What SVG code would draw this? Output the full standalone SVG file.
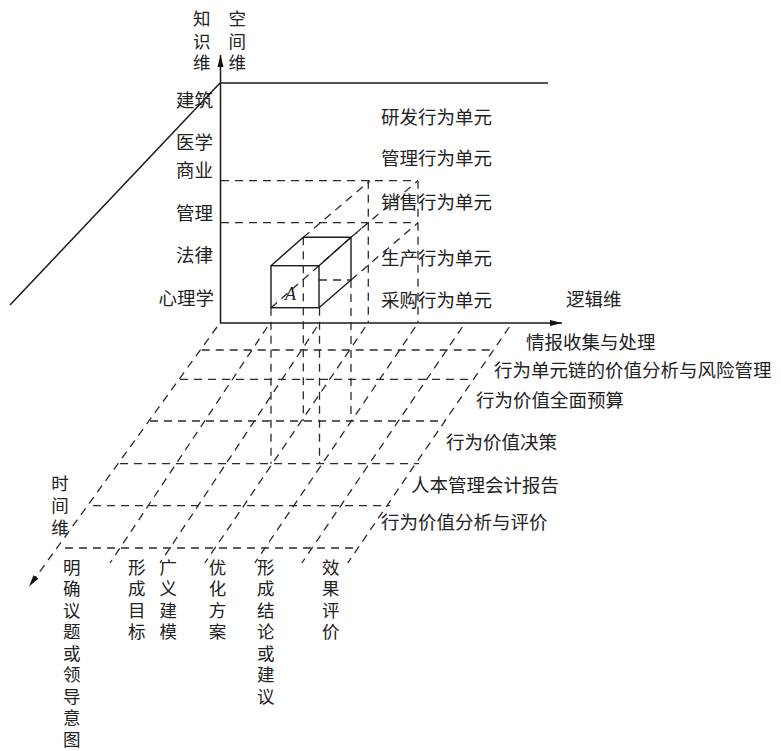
<svg xmlns="http://www.w3.org/2000/svg" width="781" height="751" viewBox="0 0 781 751">
<style>
.ax{stroke:#1a1a1a;stroke-width:1.5;fill:none}
.so{stroke:#1a1a1a;stroke-width:1.4;fill:none}
.da{stroke:#2a2a2a;stroke-width:1.3;fill:none;stroke-dasharray:8 6}
.t{font-family:"Noto Sans CJK SC","Noto Sans CJK JP",sans-serif;font-size:18.5px;fill:#222}
.v{font-size:17.5px}
.m{text-anchor:middle}
.e{text-anchor:end}
.a{font-family:"Liberation Serif",serif;font-style:italic;font-size:18px;fill:#222}
</style>
<defs>
<marker id="arr" viewBox="0 0 12 7" refX="12" refY="3.5" markerWidth="12" markerHeight="7" markerUnits="userSpaceOnUse" orient="auto">
<path d="M0,0.5 L12,3.5 L0,6.5 z" fill="#111"/>
</marker>
</defs>

<g id="axes">
<line class="ax" x1="220.5" y1="323" x2="220.5" y2="55" marker-end="url(#arr)"/>
<line class="ax" x1="220" y1="323" x2="562" y2="323" marker-end="url(#arr)"/>
<line class="ax" x1="220" y1="83" x2="548" y2="83"/>
<line class="ax" x1="220" y1="83" x2="10" y2="305"/>
<line class="da" x1="217" y1="327" x2="29" y2="586.5" marker-end="url(#arr)"/>
</g>

<g id="back-projection">
<line class="da" x1="221" y1="180.7" x2="418" y2="180.7"/>
<line class="da" x1="221" y1="222.7" x2="418" y2="222.7"/>
<line class="da" x1="368.3" y1="180.7" x2="368.3" y2="323"/>
<line class="da" x1="418" y1="180.7" x2="418" y2="323"/>
<line class="da" x1="303.3" y1="237.3" x2="370" y2="180.7"/>
<line class="da" x1="351" y1="237.3" x2="418" y2="180.7"/>
<line class="da" x1="351" y1="280" x2="418" y2="222.7"/>
<line class="da" x1="271" y1="307.7" x2="368" y2="222.7"/>
</g>

<g id="cube">
<rect class="so" x="271" y="265.7" width="48" height="42"/>
<polyline class="so" points="271,265.7 303.3,237.3 351,237.3 319,265.7"/>
<polyline class="so" points="351,237.3 351,280 319,307.7"/>
<line class="da" x1="319" y1="280" x2="351" y2="280"/>
<line class="da" x1="303.3" y1="237.3" x2="303.3" y2="421"/>
<line class="da" x1="351" y1="280" x2="351" y2="421"/>
<line class="da" x1="271" y1="307.7" x2="271" y2="463.7"/>
<line class="da" x1="319.5" y1="307.7" x2="319.5" y2="463.7"/>
<text class="a" x="285" y="299.5">A</text>
</g>

<g id="grid">
<line class="da" x1="201.7" y1="350" x2="493.3" y2="350"/>
<line class="da" x1="180" y1="379.3" x2="473" y2="379.3"/>
<line class="da" x1="150" y1="421" x2="445" y2="421"/>
<line class="da" x1="120" y1="463.7" x2="419" y2="463.7"/>
<line class="da" x1="93" y1="505.7" x2="390" y2="505.7"/>
<line class="da" x1="65" y1="548" x2="358" y2="548"/>
<line class="da" x1="267.3" y1="327" x2="110" y2="563"/>
<line class="da" x1="316.8" y1="327" x2="160" y2="563"/>
<line class="da" x1="365.3" y1="327" x2="204.8" y2="563"/>
<line class="da" x1="415.3" y1="327" x2="254.8" y2="563"/>
<line class="da" x1="462.3" y1="327" x2="301.8" y2="563"/>
<line class="da" x1="509.3" y1="327" x2="347.7" y2="563"/>
</g>

<g id="labels">
<text class="t v m"><tspan x="201.7" y="25">知</tspan><tspan x="201.7" y="47.5">识</tspan><tspan x="201.7" y="69">维</tspan></text>
<text class="t v m"><tspan x="237.3" y="25">空</tspan><tspan x="237.3" y="47.5">间</tspan><tspan x="237.3" y="69">维</tspan></text>
<text class="t e" x="213" y="107">建筑</text>
<text class="t e" x="213" y="148.5">医学</text>
<text class="t e" x="213" y="177">商业</text>
<text class="t e" x="213" y="220">管理</text>
<text class="t e" x="213" y="262">法律</text>
<text class="t e" x="214" y="305">心理学</text>
<text class="t" x="381" y="123.7">研发行为单元</text>
<text class="t" x="381" y="165.3">管理行为单元</text>
<text class="t" x="381" y="208.7">销售行为单元</text>
<text class="t" x="381" y="265.3">生产行为单元</text>
<text class="t" x="381" y="307">采购行为单元</text>
<text class="t" x="566" y="306">逻辑维</text>
<text class="t" x="526" y="348.7">情报收集与处理</text>
<text class="t" x="494" y="377">行为单元链的价值分析与风险管理</text>
<text class="t" x="476" y="407">行为价值全面预算</text>
<text class="t" x="446" y="448.7">行为价值决策</text>
<text class="t" x="411" y="492">人本管理会计报告</text>
<text class="t" x="381" y="528.7">行为价值分析与评价</text>
<text class="t v m"><tspan x="60" y="489.5">时</tspan><tspan x="60" y="511.5">间</tspan><tspan x="60" y="533.5">维</tspan></text>
<text class="t v m"><tspan x="71.7" y="573.5">明</tspan><tspan x="71.7" y="595">确</tspan><tspan x="71.7" y="616.5">议</tspan><tspan x="71.7" y="638">题</tspan><tspan x="71.7" y="659.5">或</tspan><tspan x="71.7" y="681">领</tspan><tspan x="71.7" y="702.5">导</tspan><tspan x="71.7" y="724">意</tspan><tspan x="71.7" y="745.5">图</tspan></text>
<text class="t v m"><tspan x="136.7" y="573.5">形</tspan><tspan x="136.7" y="595">成</tspan><tspan x="136.7" y="616.5">目</tspan><tspan x="136.7" y="638">标</tspan></text>
<text class="t v m"><tspan x="168.3" y="573.5">广</tspan><tspan x="168.3" y="595">义</tspan><tspan x="168.3" y="616.5">建</tspan><tspan x="168.3" y="638">模</tspan></text>
<text class="t v m"><tspan x="217.5" y="573.5">优</tspan><tspan x="217.5" y="595">化</tspan><tspan x="217.5" y="616.5">方</tspan><tspan x="217.5" y="638">案</tspan></text>
<text class="t v m"><tspan x="265.8" y="573.5">形</tspan><tspan x="265.8" y="595">成</tspan><tspan x="265.8" y="616.5">结</tspan><tspan x="265.8" y="638">论</tspan><tspan x="265.8" y="659.5">或</tspan><tspan x="265.8" y="681">建</tspan><tspan x="265.8" y="702.5">议</tspan></text>
<text class="t v m"><tspan x="330.8" y="573.5">效</tspan><tspan x="330.8" y="595">果</tspan><tspan x="330.8" y="616.5">评</tspan><tspan x="330.8" y="638">价</tspan></text>
</g>
</svg>
